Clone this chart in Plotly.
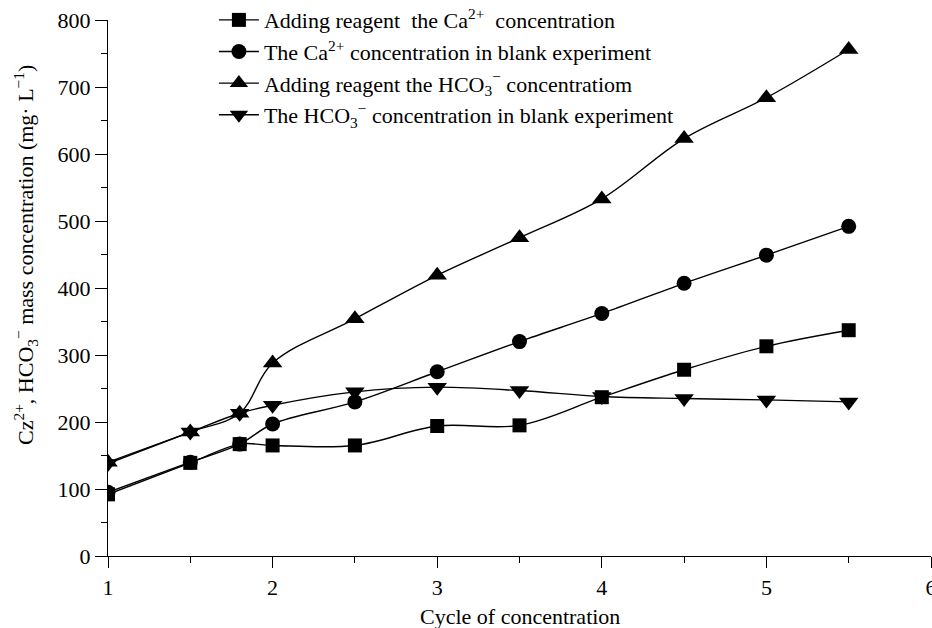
import plotly.graph_objects as go

x_vals = [1, 1.5, 1.8, 2, 2.5, 3, 3.5, 4, 4.5, 5, 5.5]

ca_add = [92, 139, 167, 165, 165, 194, 195, 237, 278, 313, 337]
ca_blank = [95, 140, 167, 197, 230, 275, 320, 362, 407, 449, 492]
hco3_add = [140, 185, 213, 288, 354, 419, 475, 533, 623, 684, 756]
hco3_blank = [138, 185, 213, 225, 245, 252, 247, 238, 235, 233, 230]

names = [
    "Adding reagent  the Ca<sup>2+</sup>  concentration",
    "The Ca<sup>2+</sup> concentration in blank experiment",
    "Adding reagent the HCO<sub>3</sub><sup>−</sup> concentratiom",
    "The HCO<sub>3</sub><sup>−</sup> concentration in blank experiment",
]
series = [ca_add, ca_blank, hco3_add, hco3_blank]
symbols = ["square", "circle", "triangle-up", "triangle-down"]
sizes = [14, 15, 17, 17]

x_ticks = [1, 2, 3, 4, 5, 6]
y_ticks = [0, 100, 200, 300, 400, 500, 600, 700, 800]

x_title = "Cycle of concentration"
y_title = "Cz<sup>2+</sup>, HCO<sub>3</sub><sup>−</sup> mass concentration (mg· L<sup>−1</sup>)"

FONT = "Liberation Serif, Times New Roman, serif"
FS = 22

fig = go.Figure()
for name, ys, sym, sz in zip(names, series, symbols, sizes):
    fig.add_trace(go.Scatter(
        x=x_vals, y=ys, name=name, mode="lines+markers",
        line=dict(color="black", width=1.4, shape="spline", smoothing=1.0),
        marker=dict(symbol=sym, size=sz, color="black"),
    ))

fig.update_layout(
    width=932, height=628,
    margin=dict(l=108, r=1, t=20, b=72, autoexpand=False),
    paper_bgcolor="white", plot_bgcolor="white",
    font=dict(family=FONT, size=FS, color="black"),
    showlegend=True,
    legend=dict(
        x=0.1287, y=1.039, xanchor="left", yanchor="top",
        bgcolor="rgba(0,0,0,0)", font=dict(family=FONT, size=FS),
        itemwidth=40, tracegroupgap=0,
    ),
    annotations=[
        dict(text=x_title, xref="paper", yref="paper", x=0.5, y=-0.112,
             xanchor="center", yanchor="middle", showarrow=False,
             font=dict(family=FONT, size=FS)),
        dict(text=y_title, xref="paper", yref="paper", x=-0.0996, y=0.5616,
             xanchor="center", yanchor="middle", showarrow=False, textangle=-90,
             font=dict(family=FONT, size=FS)),
    ],
)
fig.update_xaxes(
    range=[1, 6], tickvals=x_ticks, ticktext=[str(v) for v in x_ticks], automargin=False,
    ticklabeloverflow="allow",
    showgrid=False, zeroline=False, showline=True, linecolor="black", linewidth=1.3,
    ticks="outside", ticklen=11, tickwidth=1.3, tickcolor="black",
    minor=dict(ticks="outside", ticklen=6, dtick=0.5, tick0=1, tickcolor="black", tickwidth=1.3, showgrid=False),
    tickfont=dict(family=FONT, size=FS),
)
fig.update_yaxes(
    range=[0, 800], tickvals=y_ticks, ticktext=[str(v) for v in y_ticks], automargin=False,
    ticklabeloverflow="allow",
    showgrid=False, zeroline=False, showline=True, linecolor="black", linewidth=1.3,
    ticks="outside", ticklen=12, tickwidth=1.3, tickcolor="black",
    minor=dict(ticks="outside", ticklen=6, dtick=50, tick0=0, tickcolor="black", tickwidth=1.3, showgrid=False),
    tickfont=dict(family=FONT, size=FS),
)

fig.write_html(
    "out.html",
    config={"displayModeBar": False},
    post_script="document.body.style.margin='0';document.body.style.padding='0';document.body.style.overflow='hidden';",
)
